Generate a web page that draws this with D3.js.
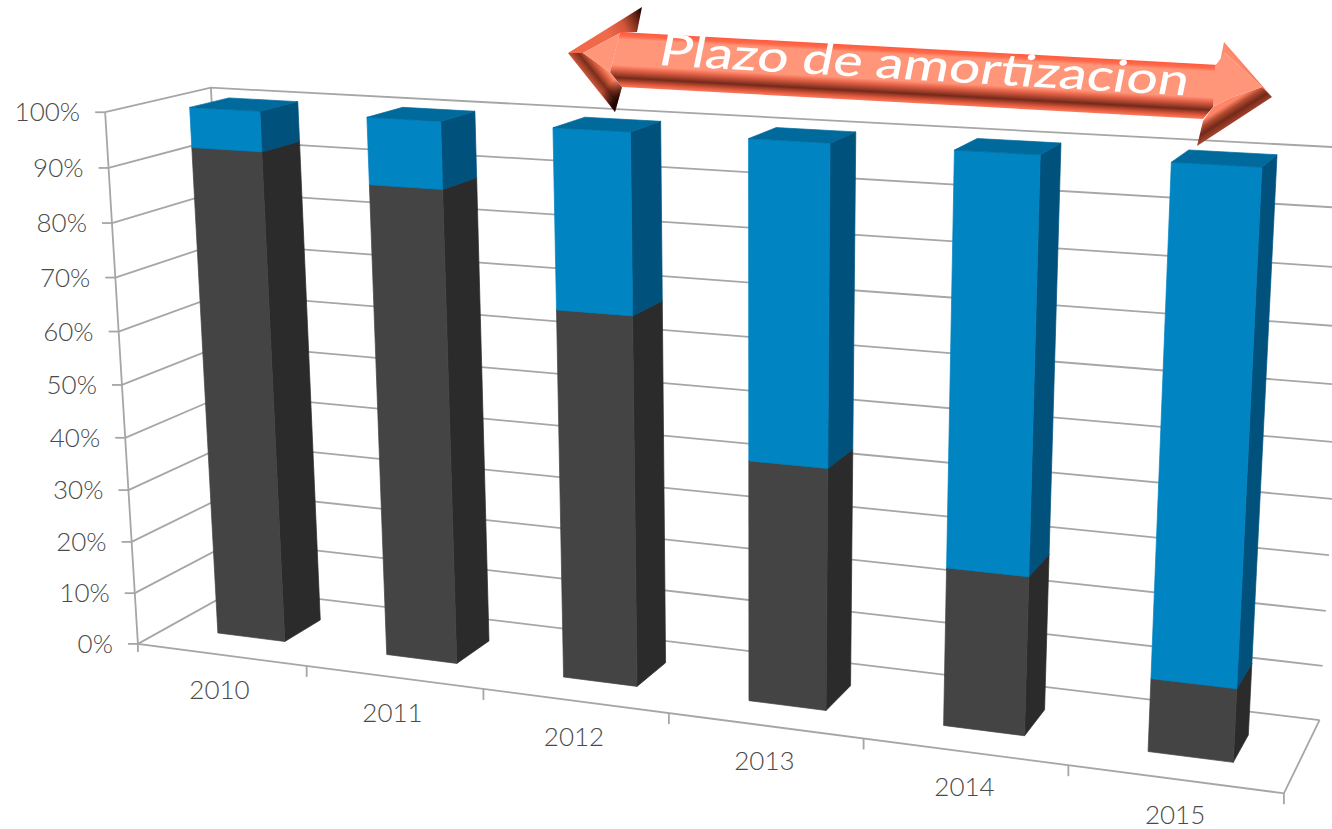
<!DOCTYPE html>
<html lang="en">

<head>
   <meta charset="UTF-8">
   <title>Plazo de amortizacion</title>
   <script src="https://d3js.org/d3.v7.min.js"></script>
   <style>
      body { margin: 0; background: #fff; }
      svg { display: block; }
      text { font-family: Lato, sans-serif; }
   </style>
</head>

<body>
   <script>

      // chart values
      const years = ['2010', '2011', '2012', '2013', '2014', '2015'];
      const darkShare = [0.927, 0.88, 0.68, 0.44, 0.285, 0.13];
      const blueShare = [0.073, 0.12, 0.32, 0.56, 0.715, 0.87];
      const yTicks = [0, 0.1, 0.2, 0.3, 0.4, 0.5, 0.6, 0.7, 0.8, 0.9, 1];
      const arrowLabel = 'Plazo de amortizacion';

      const width = 1332, height = 829;

      // where the corners of the 3d box land in the picture: [x, y, z, px, py]
      const frame = [
         [0, 0, 0, 137, 644], [1, 0, 0, 1285, 793], [0, 1, 0, 106, 113],
         [0, 0, 1, 238, 589], [0, 1, 1, 210, 87], [1, 0, 1, 1319, 721], [1, 1, 1, 1352, 148],
         [1 / 6, 0, 0, 305, 666], [2 / 6, 0, 0, 485, 689], [3 / 6, 0, 0, 670, 713],
         [4 / 6, 0, 0, 862, 738], [5 / 6, 0, 0, 1068, 765]
      ];

      // least squares camera matrix, so the whole box shares one perspective
      function fitCamera(pts) {
         const rows = [], rhs = [];
         pts.forEach(([x, y, z, u, v]) => {
            u /= 1000; v /= 1000;
            rows.push([x, y, z, 1, 0, 0, 0, 0, -u * x, -u * y, -u * z]); rhs.push(u);
            rows.push([0, 0, 0, 0, x, y, z, 1, -v * x, -v * y, -v * z]); rhs.push(v);
         });
         const n = 11;
         const a = d3.range(n).map(i => d3.range(n + 1).map(j =>
            d3.sum(rows, (r, k) => r[i] * (j < n ? r[j] : rhs[k]))));
         for (let c = 0; c < n; c++) {
            let best = c;
            for (let r = c + 1; r < n; r++) if (Math.abs(a[r][c]) > Math.abs(a[best][c])) best = r;
            [a[c], a[best]] = [a[best], a[c]];
            for (let r = 0; r < n; r++) {
               if (r === c) continue;
               const f = a[r][c] / a[c][c];
               for (let j = c; j <= n; j++) a[r][j] -= f * a[c][j];
            }
         }
         return a.map((r, i) => r[n] / r[i]);
      }

      const cam = fitCamera(frame);
      function project(x, y, z) {
         const w = cam[8] * x + cam[9] * y + cam[10] * z + 1;
         return [
            1000 * (cam[0] * x + cam[1] * y + cam[2] * z + cam[3]) / w,
            1000 * (cam[4] * x + cam[5] * y + cam[6] * z + cam[7]) / w
         ];
      }

      const xScale = d3.scaleBand().domain(years).range([0, 1.002]).paddingInner(0.598).paddingOuter(0.299);
      const yScale = d3.scaleLinear().domain([0, 1]).range([0, 1]);
      const zFront = 0.3, zBack = 0.68;

      const canvas = d3.select('body').append('svg').attr('width', width).attr('height', height);
      const line = d3.line();
      const closed = pts => line(pts) + 'Z';

      // walls and floor
      const grid = canvas.append('g').attr('fill', 'none').attr('stroke', '#a6a6a6').attr('stroke-width', 1.8);
      yTicks.forEach(t => {
         const y = yScale(t);
         grid.append('path').attr('d', line([project(0, y, 0), project(0, y, 1), project(1, y, 1)]));
         const p = project(0, y, 0);
         grid.append('path').attr('d', line([[p[0] - 10, p[1]], p]));
      });
      grid.append('path').attr('d', line([project(0, 1, 0), project(0, 0, 0), project(1, 0, 0), project(1, 0, 1)]));
      grid.append('path').attr('d', line([project(0, 1, 1), project(0, 0, 1)]));
      d3.range(1, years.length + 1).forEach(i => {
         const p = project(i / years.length, 0, 0);
         grid.append('path').attr('d', line([p, [p[0], p[1] + 11]]));
      });
      const p0 = project(0, 0, 0);
      grid.append('path').attr('d', line([p0, [p0[0], p0[1] + 8]]));

      // axis labels
      const labels = canvas.append('g').attr('fill', '#4a4a4a').attr('font-size', 26).attr('font-weight', 300);
      labels.selectAll('.ytick').data(yTicks).enter().append('text')
         .attr('class', 'ytick')
         .attr('x', d => project(0, yScale(d), 0)[0] - 25)
         .attr('y', d => project(0, yScale(d), 0)[1] + 9)
         .attr('text-anchor', 'end')
         .text(d => d3.format('.0%')(d));
      labels.selectAll('.xtick').data(years).enter().append('text')
         .attr('class', 'xtick')
         .attr('x', d => project(xScale(d) + xScale.bandwidth() / 2, 0, 0)[0] - 2)
         .attr('y', d => project(xScale(d) + xScale.bandwidth() / 2, 0, 0)[1] + 44.5)
         .attr('text-anchor', 'middle')
         .text(d => d);

      // stacked boxes
      const series = [
         { values: darkShare, front: '#444444', side: '#2b2b2b', top: '#3a3a3a' },
         { values: blueShare, front: '#0084c2', side: '#00527c', top: '#006a9c' }
      ];
      const boxes = canvas.append('g').attr('stroke-width', 0.7);
      const face = (pts, color) => boxes.append('path').attr('fill', color).attr('stroke', color).attr('d', closed(pts));
      years.forEach((year, i) => {
         const x0 = xScale(year), x1 = x0 + xScale.bandwidth();
         let base = 0;
         series.forEach(s => {
            const y0 = yScale(base), y1 = yScale(base + s.values[i]);
            base += s.values[i];
            face([project(x1, y0, zFront), project(x1, y0, zBack), project(x1, y1, zBack), project(x1, y1, zFront)], s.side);
            face([project(x0, y0, zFront), project(x1, y0, zFront), project(x1, y1, zFront), project(x0, y1, zFront)], s.front);
            face([project(x0, y1, zFront), project(x1, y1, zFront), project(x1, y1, zBack), project(x0, y1, zBack)], s.top);
         });
      });

      // arrow annotation
      const shaft = [[620, 32], [1219, 65], [1213, 107], [1203, 119], [622, 87], [610, 72]];
      const leftLight = [[583, 53], [620, 33], [610, 72]];
      const leftUpper = [[568, 53], [642, 7], [637, 32], [620, 33], [583, 53]];
      const leftLower = [[568, 53], [583, 53], [610, 72], [622, 87], [615, 112]];
      const leftCorner = [[615, 112], [622, 87], [610, 72], [600, 92]];
      const rightLight = [[1225, 53], [1262, 87], [1230, 98], [1213, 107], [1215, 66]];
      const rightUpper = [[1272, 97], [1224, 42], [1219, 67], [1225, 53], [1262, 87]];
      const rightLower = [[1272, 97], [1262, 87], [1230, 98], [1213, 107], [1203, 121], [1197, 146]];

      const defs = canvas.append('defs');
      function gradient(id, from, to, stops) {
         const g = defs.append('linearGradient').attr('id', id).attr('gradientUnits', 'userSpaceOnUse')
            .attr('x1', from[0]).attr('y1', from[1]).attr('x2', to[0]).attr('y2', to[1]);
         stops.forEach(([o, c, a]) => g.append('stop').attr('offset', o).attr('stop-color', c).attr('stop-opacity', a === undefined ? 1 : a));
      }
      gradient('shaftFill', [900, 47.4], [897, 102.3], [
         [0, '#ff5a3c'], [0.07, '#ff6a4c'], [0.13, '#ff967a'], [0.6, '#ff967a'], [0.68, '#e9654a'],
         [0.83, '#74291a'], [0.93, '#e0583c'], [1, '#ff7c60']
      ]);
      gradient('leftUp', [606, 30], [642, 12], [[0, '#f0694a'], [0.45, '#d0563b'], [0.8, '#6a2415'], [1, '#1e0703']]);
      gradient('leftDown', [586, 76], [602, 63], [[0, '#d0573c'], [0.4, '#7a2e1c'], [0.75, '#e0603f'], [1, '#ff967a']]);
      gradient('leftBack', [618, 100], [606, 88], [[0, '#1e0703', 1], [1, '#1e0703', 0]]);
      gradient('rightUp', [1238, 62], [1248, 54], [[0, '#ff8a6c'], [0.5, '#f0694a'], [1, '#c9543a']]);
      gradient('rightDown', [1235, 122], [1225, 106], [[0, '#a8452e'], [0.4, '#74291a'], [0.72, '#b04a30'], [1, '#ff8568']]);

      const arrow = canvas.append('g');
      arrow.append('path').attr('d', closed(leftUpper)).attr('fill', 'url(#leftUp)');
      arrow.append('path').attr('d', closed(leftLower)).attr('fill', 'url(#leftDown)');
      arrow.append('path').attr('d', closed(leftCorner)).attr('fill', 'url(#leftBack)');
      arrow.append('path').attr('d', closed(rightUpper)).attr('fill', 'url(#rightUp)');
      arrow.append('path').attr('d', closed(rightLower)).attr('fill', 'url(#rightDown)');
      arrow.append('path').attr('d', closed(shaft)).attr('fill', 'url(#shaftFill)');
      arrow.append('path').attr('d', closed(leftLight)).attr('fill', '#ff967a');
      arrow.append('path').attr('d', closed(rightLight)).attr('fill', '#ff967a');

      arrow.append('text')
         .attr('transform', 'translate(657, 65) rotate(3.3) skewX(-8)')
         .attr('fill', '#fff')
         .attr('font-size', 44)
         .attr('font-weight', 500)
         .attr('textLength', 530)
         .attr('lengthAdjust', 'spacingAndGlyphs')
         .text(arrowLabel);

   </script>
</body>

</html>
